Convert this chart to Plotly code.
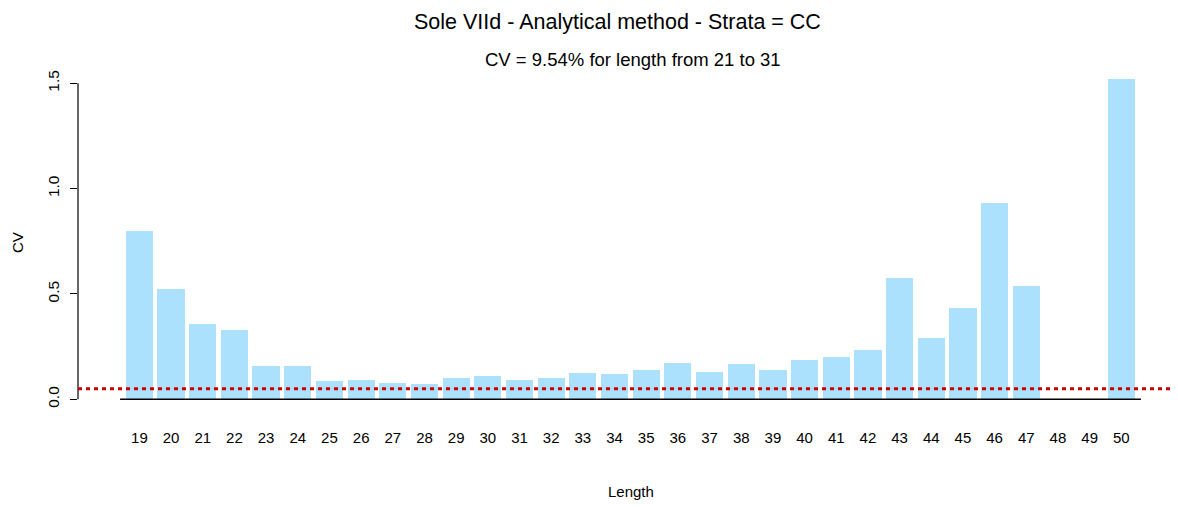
import plotly.graph_objects as go

lengths = list(range(19, 51))
cv_values = [0.80, 0.522, 0.356, 0.327, 0.160, 0.158, 0.087, 0.092, 0.076, 0.071,
             0.103, 0.112, 0.092, 0.101, 0.125, 0.120, 0.139, 0.171, 0.128, 0.166,
             0.138, 0.188, 0.202, 0.234, 0.574, 0.291, 0.432, 0.932, 0.536, 0.0,
             0.0, 1.520]
tick_labels = [str(v) for v in lengths]
threshold = 0.05
y_ticks = [0.0, 0.5, 1.0, 1.5]
y_tick_labels = ["0.0", "0.5", "1.0", "1.5"]

FONT = "Liberation Sans Narrow, Arial Narrow, Liberation Sans, Arial, sans-serif"

# page body has an 8px margin; target pixel coords are converted below
PLOT_L, PLOT_W = 78, 1100
PLOT_BOTTOM, PLOT_H = 417, 347


def px_x(x):
    return (x - PLOT_L) / PLOT_W


def px_y(y):
    return (PLOT_BOTTOM - y) / PLOT_H


fig = go.Figure()
fig.add_trace(go.Bar(x=lengths, y=cv_values, width=0.86,
                     marker=dict(color="#ACE1FE", line=dict(width=0)),
                     showlegend=False, hoverinfo="x+y"))

# baseline axis
fig.add_shape(type="line", xref="x", yref="y", x0=18.39, x1=50.62, y0=0, y1=0,
              line=dict(color="black", width=1.5))
# y axis line
fig.add_shape(type="line", xref="paper", yref="y", x0=0, x1=0, y0=0, y1=1.5,
              line=dict(color="black", width=1.2))
# threshold line
fig.add_shape(type="line", xref="paper", yref="y", x0=0, x1=1, y0=threshold, y1=threshold,
              line=dict(color="#CC0000", width=3.2, dash="4px,4px"))

fig.update_layout(
    width=1170, height=499,
    margin=dict(l=70, r=0, t=62, b=90),
    paper_bgcolor="white", plot_bgcolor="white",
    font=dict(family=FONT, color="black", size=14),
    bargap=0,
    xaxis=dict(range=[17.061, 51.79], tickmode="array", tickvals=lengths,
               ticktext=tick_labels, showgrid=False, zeroline=False, showline=False,
               ticks="", tickfont=dict(size=15), ticklabelstandoff=10),
    yaxis=dict(range=[-0.084, 1.563], tickmode="array", tickvals=y_ticks,
               ticktext=y_tick_labels, tickangle=-90, showgrid=False, zeroline=False,
               showline=False, ticks="outside", ticklen=7, tickwidth=1.2,
               tickcolor="black", tickfont=dict(size=15.5), ticklabelstandoff=5),
    annotations=[
        dict(text="Sole VIId - Analytical method - Strata = CC", xref="paper", yref="paper",
             x=px_x(617), y=px_y(22), xanchor="center", yanchor="middle",
             showarrow=False, font=dict(size=21.5)),
        dict(text="CV = 9.54% for length from 21 to 31", xref="paper", yref="paper",
             x=px_x(633), y=px_y(60), xanchor="center", yanchor="middle",
             showarrow=False, font=dict(size=18.5)),
        dict(text="Length", xref="paper", yref="paper",
             x=px_x(631), y=px_y(491), xanchor="center", yanchor="middle",
             showarrow=False, font=dict(size=15)),
        dict(text="CV", xref="paper", yref="paper", textangle=-90,
             x=px_x(17), y=px_y(243), xanchor="center", yanchor="middle",
             showarrow=False, font=dict(size=15)),
    ],
)

fig.write_html("out.html")
